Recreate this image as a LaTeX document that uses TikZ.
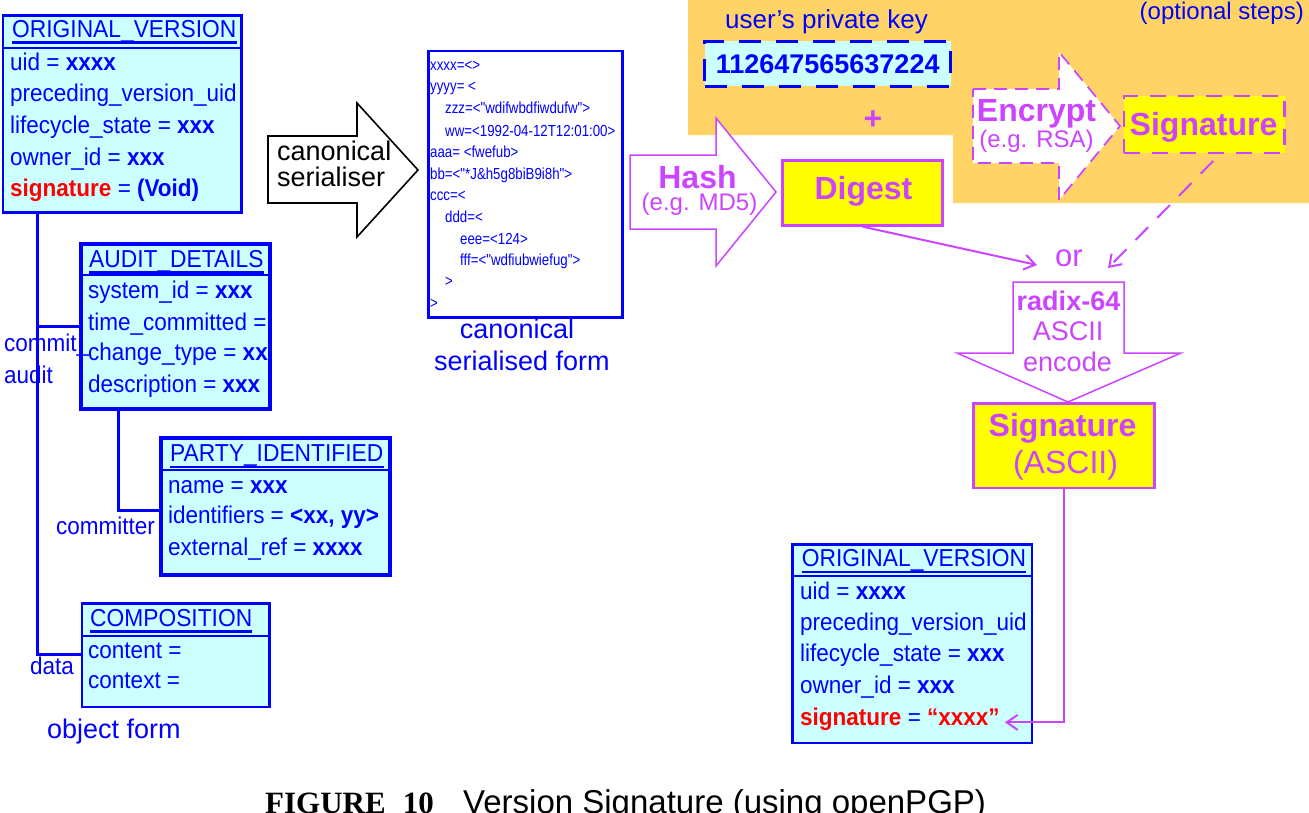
\documentclass[tikz,border=0pt]{standalone}
\usepackage{fontspec}
\setmainfont{Liberation Sans}
\newfontfamily\capfont{Liberation Serif}
\newfontfamily\narrowfont{Liberation Sans}[FakeStretch=0.83]
\newfontfamily\clsfont{Liberation Sans}[FakeStretch=0.93]
\usetikzlibrary{arrows.meta,calc}
\definecolor{ublue}{RGB}{0,0,255}
\definecolor{ucyan}{RGB}{204,255,255}
\definecolor{umag}{RGB}{204,68,255}
\definecolor{uyel}{RGB}{255,255,0}
\definecolor{uorange}{RGB}{255,211,102}
\definecolor{ured}{RGB}{255,0,0}
\tikzset{
  every node/.style={inner sep=0pt},
  row/.style={anchor=base west, text=ublue, font=\clsfont\fontsize{24.2}{28}\selectfont},
  ttl/.style={anchor=base west, text=ublue, font=\clsfont\fontsize{24.5}{28}\selectfont},
  lbl/.style={anchor=base west, text=ublue, font=\clsfont\fontsize{24.2}{28}\selectfont},
  big/.style={text=ublue, font=\fontsize{27}{30}\selectfont},
  cls/.style={draw=ublue, fill=ucyan, line width=2.6pt, anchor=north west},
  ulin/.style={ublue, line width=2.4pt},
  divl/.style={ublue, line width=2.4pt},
  conn/.style={ublue, line width=3pt},
  ser/.style={anchor=base west, text=ublue, font=\narrowfont\fontsize{16}{18}\selectfont},
  mag/.style={umag, line width=2pt},
  barb/.style={-{Straight Barb[length=11pt,width=15pt,line width=2pt]}},
  mtxt/.style={anchor=base, text=umag},
  bigarrow/.style={umag, line width=1.5pt, fill=white, line join=miter},
}
\begin{document}
\begin{tikzpicture}[x=1pt,y=-1pt]
\useasboundingbox (0,0) rectangle (1309,812);

% ---------- orange background (optional steps)
\fill[uorange] (688,0) -- (1309,0) -- (1309,203) -- (953,203) -- (953,135) -- (688,135) -- cycle;

% ---------- big block arrows
\draw[black, line width=1.6pt, fill=white, line join=miter]
  (268,136) -- (357,136) -- (357,103) -- (418,170) -- (357,237) -- (357,203) -- (268,203) -- cycle;
\draw[bigarrow]
  (630,155) -- (716,155) -- (716,118) -- (776,192) -- (716,266) -- (716,229) -- (630,229) -- cycle;
\draw[bigarrow, line width=1.7pt, dash pattern=on 13pt off 8pt]
  (973,89) -- (1059,89) -- (1059,52) -- (1120,126) -- (1059,200) -- (1059,163) -- (973,163) -- cycle;
\draw[bigarrow]
  (1013,282) -- (1124,282) -- (1124,353) -- (1181,353) -- (1068,402) -- (957,353) -- (1013,353) -- cycle;

% ---------- texts in arrows
\node[anchor=base west, font=\fontsize{27}{30}\selectfont] (cs1) at (277,160) {canonical};
\node[anchor=base west, font=\fontsize{27}{30}\selectfont] (cs2) at (277,186.7) {serialiser};
\node[mtxt, font=\bfseries\fontsize{32}{36}\selectfont] (hash) at (697.5,188.3) {Hash};
\node[mtxt, font=\fontsize{24}{28}\selectfont] (hash2) at (699.5,210) {(e.g. MD5)};
\node[mtxt, font=\bfseries\fontsize{32}{36}\selectfont] (enc) at (1036.5,121.7) {Encrypt};
\node[mtxt, font=\fontsize{24}{28}\selectfont] (enc2) at (1036.5,147.7) {(e.g. RSA)};
\node[mtxt, font=\bfseries\fontsize{27}{30}\selectfont] (rad1) at (1068.5,310) {radix-64};
\node[mtxt, font=\fontsize{27}{30}\selectfont] (rad2) at (1068,340.7) {ASCII};
\node[mtxt, font=\fontsize{27}{30}\selectfont] (rad3) at (1067.5,371.7) {encode};

% ---------- optional-steps area
\node[big, anchor=base, font=\fontsize{26}{30}\selectfont] (ukey) at (826.5,28.5) {user’s private key};
\node[draw=ublue, fill=ucyan, line width=3pt, dash pattern=on 22pt off 15pt,
      minimum width=246pt, minimum height=45pt, text=ublue,
      font=\bfseries\fontsize{27}{30}\selectfont] (key) at (827.7,63.8) {112647565637224};
\node[text=umag, font=\bfseries\fontsize{32}{36}\selectfont] (plus) at (873,120) {+};
\node[anchor=base east, text=ublue, font=\fontsize{24}{28}\selectfont] (opt) at (1304,19.5) {(optional steps)};
\node[draw=umag, fill=uyel, line width=2.2pt, dash pattern=on 16pt off 12pt,
      minimum width=160.5pt, minimum height=56.5pt] (sig) at (1204.3,124.5) {};
\node[mtxt, font=\bfseries\fontsize{32}{36}\selectfont] (sigt) at (1203.5,135) {Signature};

% ---------- digest
\node[draw=umag, fill=uyel, line width=2.7pt, minimum width=159.6pt, minimum height=64.6pt] (dig) at (862.5,193) {};
\node[mtxt, font=\bfseries\fontsize{32}{36}\selectfont] (digt) at (863.5,199) {Digest};

% ---------- or
\node[mtxt, font=\fontsize{31}{34}\selectfont] (or) at (1069,266) {or};
\coordinate (orL) at (1037,265);
\coordinate (orR) at (1108,268);
\draw[mag, barb] (dig.south) -- (orL);
\draw[mag, barb, dash pattern=on 18pt off 13pt] ([shift={(9,7)}]sig.south) -- (orR);

% ---------- signature (ASCII)
\node[draw=umag, fill=uyel, line width=2.7pt, minimum width=181pt, minimum height=84.7pt] (asc) at (1064.2,445.7) {};
\node[mtxt, font=\bfseries\fontsize{32}{36}\selectfont] (asc1) at (1062.5,436.7) {Signature};
\node[mtxt, font=\fontsize{32}{36}\selectfont] (asc2) at (1065.5,473.3) {(ASCII)};

% ---------- serialised form
\node[draw=ublue, fill=white, line width=2.6pt, anchor=north west, minimum width=194pt, minimum height=266.3pt] (serbox) at (427,49.7) {};
\node[ser] (s1) at (430,70) {xxxx=<>};
\node[ser] (s2) at (430,91.7) {yyyy= <};
\node[ser] (s3) at (445,113.3) {zzz=<"wdifwbdfiwdufw">};
\node[ser] (s4) at (445,136) {ww=<1992-04-12T12:01:00>};
\node[ser] (s5) at (430,157.3) {aaa= <fwefub>};
\node[ser] (s6) at (430,179.3) {bb=<"*J\&h5g8biB9i8h">};
\node[ser] (s7) at (430,200.7) {ccc=<};
\node[ser] (s8) at (445,222.7) {ddd=<};
\node[ser] (s9) at (460,244) {eee=<124>};
\node[ser] (s10) at (460,265.3) {fff=<"wdfiubwiefug">};
\node[ser] (s11) at (445,286.7) {>};
\node[ser] (s12) at (430,308.3) {>};
\node[big, anchor=base] (csf1) at (517,338.3) {canonical};
\node[big, anchor=base] (csf2) at (522,370) {serialised form};

% ---------- ORIGINAL_VERSION (top left)
\node[cls, minimum width=238.5pt, minimum height=197pt] (orig1) at (1.5,14) {};
\node[ttl] (o1t) at (12,37) {ORIGINAL\_VERSION};
\draw[ulin] ($(o1t.base west)+(0,5.3)$) -- ($(o1t.base east)+(0,5.3)$);
\draw[divl] (orig1.west |- 0,48) -- (orig1.east |- 0,48);
\node[row] (o1a) at (10,70.7) {uid = \textbf{xxxx}};
\node[row] (o1b) at (10,101.7) {preceding\_version\_uid};
\node[row] (o1c) at (10,133) {lifecycle\_state = \textbf{xxx}};
\node[row] (o1d) at (10,165) {owner\_id = \textbf{xxx}};
\node[row] (o1e) at (10,196) {\textcolor{ured}{\textbf{signature}} = \textbf{(Void)}};

% ---------- AUDIT_DETAILS
\node[cls, minimum width=187.5pt, minimum height=164pt] (audit) at (80.5,243) {};
\begin{scope}
\clip (80.5,243) rectangle (268,407);
\node[ttl] (adt) at (89,267.3) {AUDIT\_DETAILS};
\draw[ulin] ($(adt.base west)+(0,5.3)$) -- ($(adt.base east)+(0,5.3)$);
\node[row] (ada) at (88,298) {system\_id = \textbf{xxx}};
\node[row] (adb) at (88,330) {time\_committed =};
\node[row] (adc) at (88,360) {change\_type = \textbf{xxx}};
\node[row] (add) at (88,392.7) {description = \textbf{xxx}};
\end{scope}
\draw[cls, fill=none] (audit.north west) rectangle (audit.south east);
\draw[divl] (audit.west |- 0,275) -- (audit.east |- 0,275);

% ---------- PARTY_IDENTIFIED
\node[cls, minimum width=227.5pt, minimum height=136pt] (party) at (160.5,437) {};
\begin{scope}
\clip (160.5,437) rectangle (388,573);
\node[ttl] (pt) at (170,461.7) {PARTY\_IDENTIFIED};
\draw[ulin] ($(pt.base west)+(0,5.3)$) -- ($(pt.base east)+(0,5.3)$);
\node[row] (pa) at (168,493) {name = \textbf{xxx}};
\node[row] (pb) at (168,523) {identifiers = \textbf{<xx, yy>}};
\node[row] (pc) at (168,555) {external\_ref = \textbf{xxxx}};
\end{scope}
\draw[cls, fill=none] (party.north west) rectangle (party.south east);
\draw[divl] (party.west |- 0,470) -- (party.east |- 0,470);

% ---------- COMPOSITION
\node[cls, minimum width=187.5pt, minimum height=103.5pt] (comp) at (80.5,602) {};
\node[ttl] (ct) at (90,626) {COMPOSITION};
\draw[ulin] ($(ct.base west)+(0,5.3)$) -- ($(ct.base east)+(0,5.3)$);
\draw[divl] (comp.west |- 0,636) -- (comp.east |- 0,636);
\node[row] (ca) at (88,658.3) {content =};
\node[row] (cb) at (88,688.3) {context =};

% ---------- object-form connectors and labels
\coordinate (spine) at ([xshift=35.5pt]orig1.south west);
\node[lbl] (lcommit) at (4,351.7) {commit\_};
\node[lbl] (laudit) at (4,383.3) {audit};
\node[lbl] (lcommitter) at (56,534) {committer};
\node[lbl] (ldata) at (30,674) {data};
\node[lbl, font=\fontsize{27}{30}\selectfont] (lobj) at (47,738.3) {object form};
\draw[conn] (spine) |- (comp.west |- 0,654);
\draw[conn] (spine |- 0,326) -- (audit.west |- 0,326);
\draw[conn] ([xshift=37.5pt]audit.south west) |- (party.west |- 0,510);

% ---------- ORIGINAL_VERSION (bottom right)
\node[cls, minimum width=239.5pt, minimum height=198.5pt] (orig2) at (791,543) {};
\node[ttl] (o2t) at (801.7,566.7) {ORIGINAL\_VERSION};
\draw[ulin] ($(o2t.base west)+(0,5.3)$) -- ($(o2t.base east)+(0,5.3)$);
\draw[divl] (orig2.west |- 0,576) -- (orig2.east |- 0,576);
\node[row] (o2a) at (800,599.3) {uid = \textbf{xxxx}};
\node[row] (o2b) at (800,630) {preceding\_version\_uid};
\node[row] (o2c) at (800,661.7) {lifecycle\_state = \textbf{xxx}};
\node[row] (o2d) at (800,693.3) {owner\_id = \textbf{xxx}};
\node[row] (o2e) at (800,725) {\textcolor{ured}{\textbf{signature}} = \textcolor{ured}{\textbf{“xxxx”}}};
\draw[mag, barb] (asc.south) |- ([xshift=5pt]o2e.mid east);

% ---------- caption
\node[anchor=base west, font=\capfont\bfseries\fontsize{31}{34}\selectfont] (cap1) at (265,813) {FIGURE\hspace{17pt}10};
\node[anchor=base west, font=\fontsize{33}{36}\selectfont] (cap2) at (463,813) {Version Signature (using openPGP)};
\end{tikzpicture}
\end{document}
